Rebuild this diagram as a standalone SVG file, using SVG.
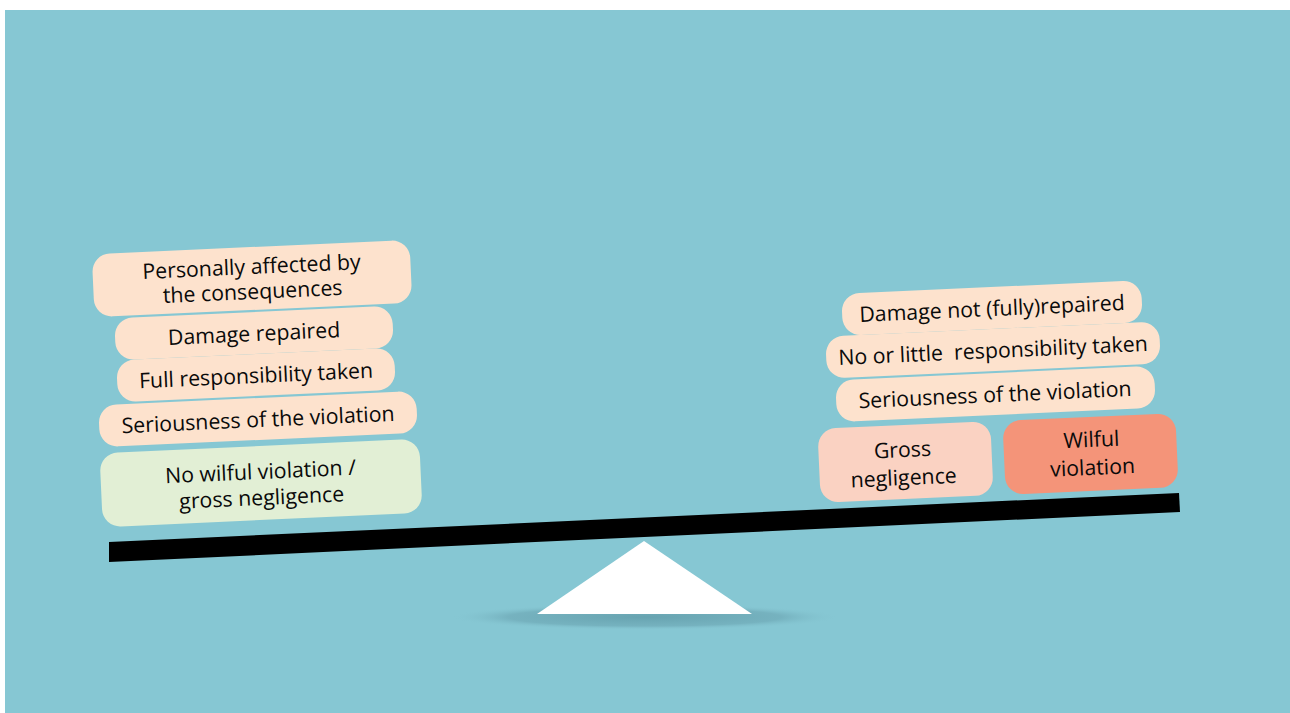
<svg xmlns="http://www.w3.org/2000/svg" width="1290" height="713" viewBox="0 0 1290 713">
<defs>
<style>
.t{font-family:"Open Sans","Noto Sans",sans-serif;font-size:21.3px;fill:#0a0a0a;text-anchor:middle}
.peach{fill:#FDE2CD}
.green{fill:#E2EFD5}
.gross{fill:#FAD2C2}
.wilful{fill:#F49479}
</style>
<radialGradient id="sh" cx="0.5" cy="0.5" r="0.5">
<stop offset="0" stop-color="#67A3B0" stop-opacity="1"/>
<stop offset="0.7" stop-color="#74B0BD" stop-opacity="0.9"/>
<stop offset="1" stop-color="#86C7D3" stop-opacity="0"/>
</radialGradient>
</defs>
<rect x="0" y="0" width="1290" height="713" fill="#ffffff"/>
<rect x="5" y="10" width="1285" height="703" fill="#86C7D3"/>
<ellipse cx="645" cy="617" rx="195" ry="13" fill="url(#sh)"/>
<polygon points="644,541 752,614 537,614" fill="#ffffff"/>
<g id="connectors">
<polygon points="109,542 1179,493 1180,512 109,562" fill="#000000"/>
</g>
<g id="left1" transform="rotate(-2.6 252 278)">
<rect class="peach" x="93" y="247" width="318" height="63" rx="18"/>
<text class="t" x="252" y="274">Personally affected by</text>
<text class="t" x="252" y="299">the consequences</text>
</g>
<g id="left2" transform="rotate(-2.6 254 333)">
<rect class="peach" x="115" y="312" width="278" height="42" rx="18"/>
<text class="t" x="254" y="341">Damage repaired</text>
</g>
<g id="left3" transform="rotate(-2.6 256 375)">
<rect class="peach" x="117" y="354" width="278" height="42" rx="18"/>
<text class="t" x="256" y="383">Full responsibility taken</text>
</g>
<g id="left4" transform="rotate(-2.6 258 419)">
<rect class="peach" x="99" y="398" width="318" height="42" rx="18"/>
<text class="t" x="258" y="427">Seriousness of the violation</text>
</g>
<g id="left5" transform="rotate(-2.6 261 483)">
<rect class="green" x="101" y="446" width="320" height="74" rx="18"/>
<text class="t" x="261" y="479">No wilful violation /</text>
<text class="t" x="261" y="505">gross negligence</text>
</g>
<g id="right1" transform="rotate(-2.6 992 308)">
<rect class="peach" x="842" y="287" width="300" height="42" rx="18"/>
<text class="t" x="992" y="316">Damage not (fully)repaired</text>
</g>
<g id="right2" transform="rotate(-2.6 993 350)">
<rect class="peach" x="826" y="329" width="334" height="42" rx="18"/>
<text class="t" x="993" y="358" xml:space="preserve">No or little  responsibility taken</text>
</g>
<g id="right3" transform="rotate(-2.6 995 394)">
<rect class="peach" x="836" y="373" width="319" height="42" rx="18"/>
<text class="t" x="995" y="402">Seriousness of the violation</text>
</g>
<g id="right4" transform="rotate(-2.6 905 462)">
<rect class="gross" x="819" y="425" width="173" height="74" rx="18"/>
<text class="t" x="903" y="457">Gross</text>
<text class="t" x="903" y="485">negligence</text>
</g>
<g id="right5" transform="rotate(-2.6 1090 454)">
<rect class="wilful" x="1004" y="417" width="173" height="74" rx="18"/>
<text class="t" x="1092" y="447">Wilful</text>
<text class="t" x="1092" y="475">violation</text>
</g>
</svg>
